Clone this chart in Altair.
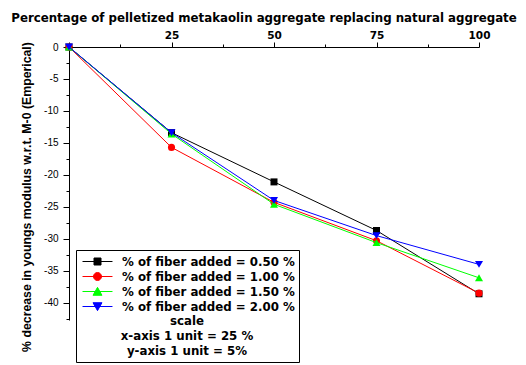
import altair as alt
import pandas as pd

# ---- data ----
x_vals = [0, 25, 50, 75, 100]
fiber_050 = [0, -13.4, -21.1, -28.7, -38.6]
fiber_100 = [0, -15.7, -24.3, -30.3, -38.5]
fiber_150 = [0, -13.6, -24.6, -30.6, -36.1]
fiber_200 = [0, -13.4, -24.0, -29.5, -34.0]

series_names = [
    "% of fiber added = 0.50 %",
    "% of fiber added = 1.00 %",
    "% of fiber added = 1.50 %",
    "% of fiber added = 2.00 %",
]
series_colors = ["#000000", "#ff0000", "#00ff00", "#0000ff"]
marker_shapes = ["square", "circle", "triangle-up", "triangle-down"]
marker_sizes = [49, 50, 64, 64]
legend_paths = [
    "M-2.14,0H2.14M-0.5,-0.5H0.5V0.5H-0.5Z",
    "M-2.14,0H2.14M-0.57,0A0.57,0.57 0 1,0 0.57,0A0.57,0.57 0 1,0 -0.57,0Z",
    "M-2.14,0H2.14M0,-0.59L0.64,0.54H-0.64Z",
    "M-2.14,0H2.14M0,0.59L0.64,-0.54H-0.64Z",
]
scale_notes = ["scale", "x-axis 1 unit = 25 %", "y-axis 1 unit = 5%"]
x_ticks = [0, 12.5, 25, 37.5, 50, 62.5, 75, 87.5, 100]
y_ticks = [0, -2.5, -5, -7.5, -10, -12.5, -15, -17.5, -20, -22.5, -25, -27.5,
           -30, -32.5, -35, -37.5, -40, -42.5]
x_title = "Percentage of pelletized metakaolin aggregate replacing natural aggregate"
y_title = "% decrease in youngs modulus w.r.t. M-0 (Emperical)"

rows = []
for name, vals in zip(series_names, [fiber_050, fiber_100, fiber_150, fiber_200]):
    for xv, yv in zip(x_vals, vals):
        rows.append({"replacement": xv, "decrease": yv, "series": name})
df = pd.DataFrame(rows)

BOLD_FONT = "DejaVu Sans"

x_axis = alt.Axis(
    orient="top", values=x_ticks,
    labelExpr="datum.value % 25 == 0 && datum.value > 0 ? datum.label : ''",
    tickSize={"condition": {"test": "datum.value % 25 == 0", "value": 5}, "value": 3},
    title=x_title, titleFont=BOLD_FONT, titleFontSize=11.8, titleFontWeight="bold",
    titleColor="black", titleX=194.5, titleY=-26, titleBaseline="alphabetic",
    labelFont=BOLD_FONT, labelFontSize=10.5, labelFontWeight="bold", labelColor="black",
    labelPadding=2, domainColor="black", tickColor="black", grid=False,
    labelFlush=False, labelOverlap=False,
)
y_axis = alt.Axis(
    values=y_ticks,
    labelExpr="datum.value % 5 == 0 ? '' + datum.value : ''",
    tickSize={"condition": {"test": "datum.value % 5 == 0", "value": 6}, "value": 3},
    title=y_title, titleFont="Liberation Sans", titleFontSize=12.3, titleFontWeight="bold",
    titleColor="black", titleX=-36, titleY=149.5,
    labelFont="Liberation Sans", labelFontSize=10, labelColor="black", labelPadding=5,
    domainColor="black", tickColor="black", grid=False, labelFlush=False, labelOverlap=False,
)

X = alt.X("replacement:Q", scale=alt.Scale(domain=[0, 100], nice=False, zero=False), axis=x_axis)
Y = alt.Y("decrease:Q", scale=alt.Scale(domain=[-42.7, 0], nice=False, zero=False), axis=y_axis)

base = alt.Chart(df)
layers = []
for name, col, shp, sz in zip(series_names, series_colors, marker_shapes, marker_sizes):
    sub = base.transform_filter(alt.datum.series == name)
    layers.append(sub.mark_line(strokeWidth=1, color=col).encode(x=X, y=Y))
    layers.append(
        sub.mark_point(shape=shp, filled=True, opacity=1, size=sz, color=col).encode(x=X, y=Y)
    )

legend_def = alt.Legend(
    orient="none", legendX=7, legendY=203,
    title=scale_notes, titleOrient="bottom", titleAnchor="middle", titleAlign="center",
    titleFont=BOLD_FONT, titleFontSize=11.8, titleFontWeight="bold", titleColor="black",
    titleLineHeight=15, titlePadding=3, titleLimit=400,
    labelFont=BOLD_FONT, labelFontSize=11.8, labelFontWeight="bold", labelColor="black",
    labelLimit=400, labelOffset=17, symbolOffset=10, symbolSize=196, symbolStrokeWidth=1,
    rowPadding=0, padding=4, strokeColor="black", fillColor="white",
)

legend_layer = base.transform_filter("datum.decrease < -1000").mark_point(
    filled=True, opacity=1, strokeWidth=1
).encode(
    x=X, y=Y,
    fill=alt.Fill("series:N", scale=alt.Scale(domain=series_names, range=series_colors), legend=legend_def),
    stroke=alt.Stroke("series:N", scale=alt.Scale(domain=series_names, range=series_colors), legend=legend_def),
    shape=alt.Shape("series:N", scale=alt.Scale(domain=series_names, range=legend_paths), legend=legend_def),
)
layers.append(legend_layer)

chart = alt.layer(*layers).properties(
    width=410, height=273,
    padding={"left": 69, "top": 47, "right": 47, "bottom": 45},
    autosize=alt.AutoSizeParams(type="none"),
    background="white",
).configure_view(stroke=None)

chart.save("out.html", embed_options={"renderer": "svg", "actions": False})
